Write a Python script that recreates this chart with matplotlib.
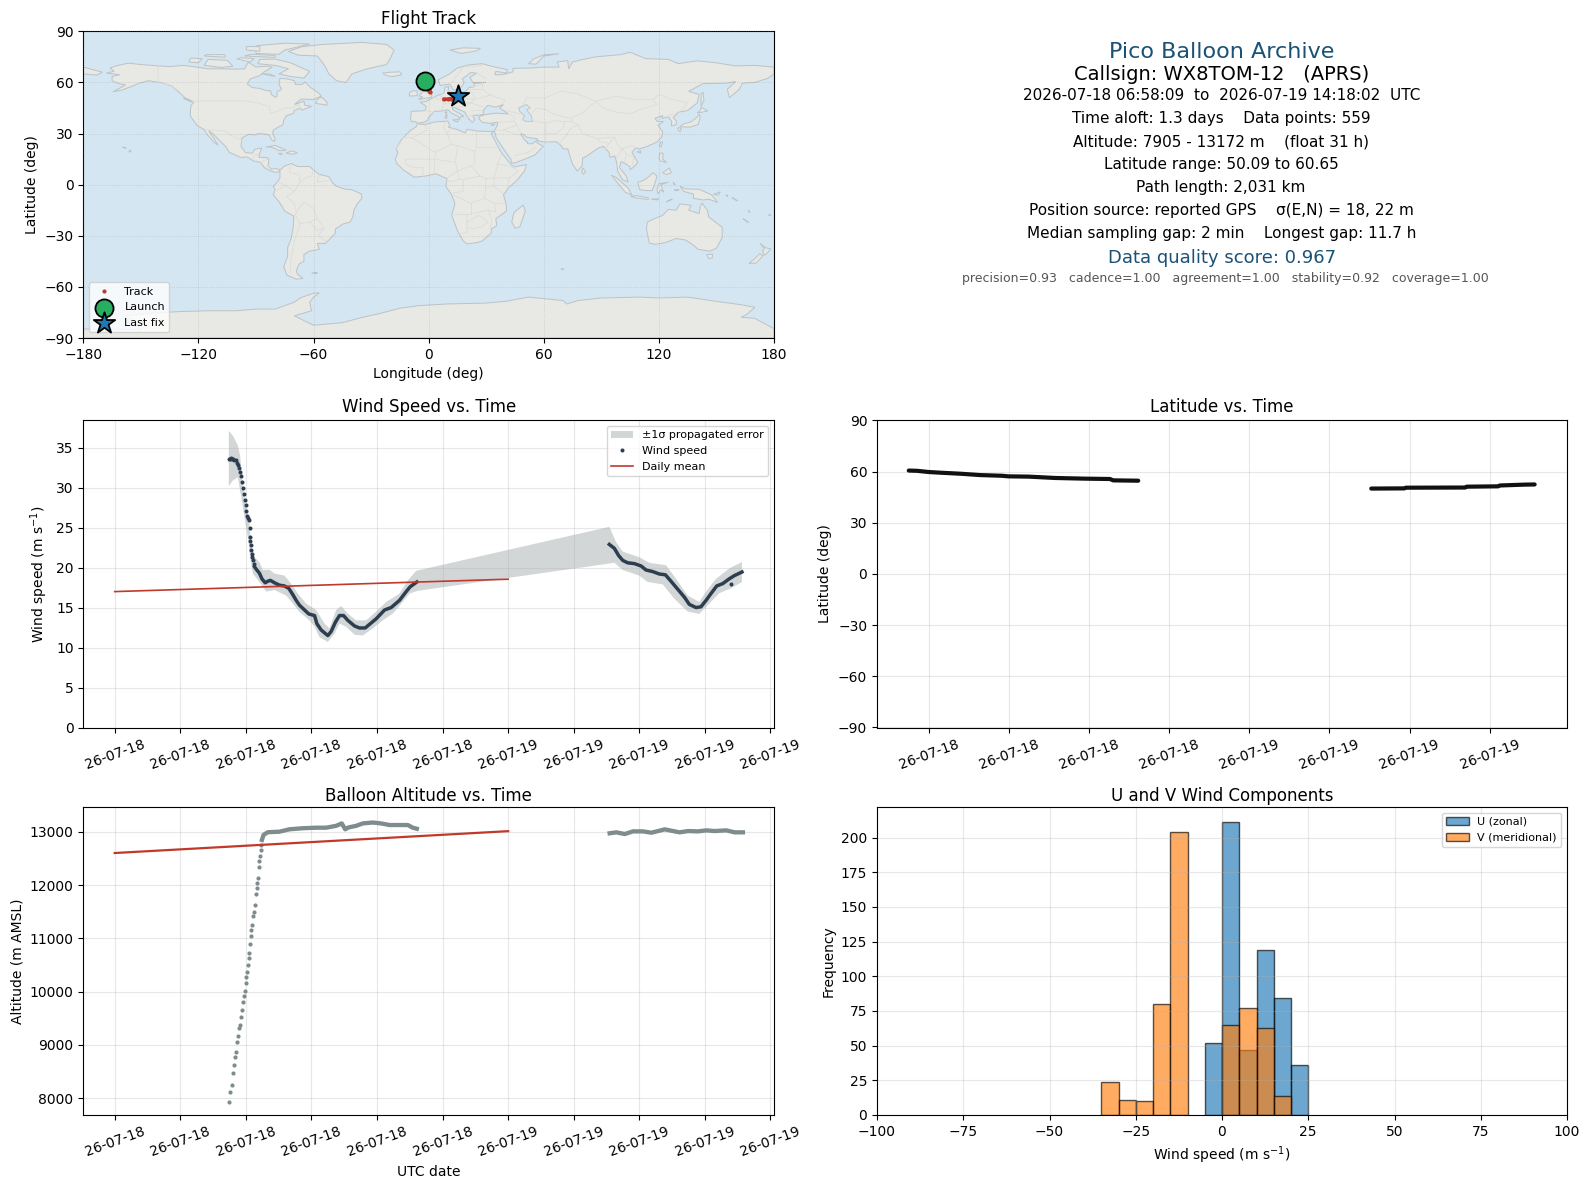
import datetime as dt
import numpy as np
import matplotlib
matplotlib.use("Agg")
import matplotlib.pyplot as plt
import matplotlib.dates as mdates
from matplotlib.patches import Polygon

# ---------- time series (hours since 2026-07-18 00:00 UTC) ----------
wind_climb_t = [6.96,7.02,7.08,7.14,7.21,7.29,7.37,7.44,7.51,7.58,7.65,7.70,7.76,7.82,7.88,7.93,7.98,8.03,8.08,8.13,8.18,8.24,8.26,8.28,8.30,8.33,8.35,8.39,8.43,8.48]
wind_climb_v = [33.63,33.6,33.65,33.6,33.6,33.5,33.4,33.1,32.8,32.4,32.0,31.4,30.7,30.0,29.25,28.5,27.8,27.1,26.5,26.2,26.0,24.9,23.8,23.3,22.8,22.2,21.75,21.3,20.9,20.5]
wind_seg1_t = [8.53,8.67,8.83,8.98,9.18,9.34,9.50,9.75,10.05,10.36,10.62,10.87,11.07,11.27,11.58,11.84,12.19,12.33,12.59,13.0,13.2,13.47,13.71,13.96,14.22,14.63,14.93,15.28,15.54,15.95,16.46,16.86,17.37,17.78,18.02,18.43]
wind_seg1_v = [20.1,19.7,19.3,18.6,18.1,18.3,18.4,18.1,17.8,17.7,17.4,16.6,15.9,15.3,14.7,14.2,14.0,13.0,12.2,11.5,12.0,13.2,14.0,14.0,13.4,12.7,12.45,12.45,12.9,13.6,14.7,15.0,15.9,17.0,17.6,18.2]
wind_seg2_t = [30.17,30.48,30.74,30.99,31.29,31.70,32.11,32.41,32.82,33.22,33.59,33.93,34.34,34.75,35.05,35.46,35.76,36.07,36.37,36.72,37.09,37.49,37.80,38.26]
wind_seg2_v = [22.9,22.4,21.5,20.9,20.6,20.5,20.2,19.7,19.5,19.2,19.1,18.3,17.3,16.3,15.4,15.0,15.1,15.9,16.75,17.7,18.0,18.6,19.0,19.45]
wind_outlier_t = [37.59]
wind_outlier_v = [18.0]

band_upper_t = [6.96,7.21,7.51,7.65,7.82,8.02,8.22,8.33,8.53,8.83,9.04,9.44,9.75,10.36,10.76,11.17,11.68,12.29,12.80,13.10,13.51,13.81,14.22,14.73,15.34,15.95,16.56,17.37,17.88,18.39,30.17,30.58,30.99,32.0,32.61,33.63,34.24,34.95,35.66,36.07,36.68,37.49,38.26]
band_upper_v = [37.1,36.5,35.3,34.0,30.1,27.6,25.5,22.6,21.3,20.7,19.7,19.75,19.25,19.0,18.0,16.75,15.5,14.7,13.0,12.4,14.7,15.2,14.25,13.4,13.4,14.5,15.7,16.75,18.4,19.6,25.1,23.2,22.0,21.3,20.6,20.3,18.6,16.5,15.7,17.0,18.6,19.9,20.7]
band_lower_t = [6.96,7.21,7.51,7.72,7.92,8.18,8.26,8.43,8.83,9.24,9.75,10.46,10.87,11.27,11.88,12.19,12.49,13.0,13.41,13.71,14.12,14.63,15.13,15.74,16.35,16.96,17.57,17.98,18.49,30.48,30.99,32.0,32.51,33.43,34.14,34.95,35.66,36.27,36.88,37.59,38.26]
band_lower_v = [30.2,30.9,31.3,28.8,26.3,23.0,21.3,19.25,18.2,17.0,17.2,16.5,15.5,14.45,13.4,12.6,11.3,10.7,11.75,13.0,12.6,11.6,11.5,12.4,13.4,14.25,15.7,16.75,17.1,20.6,19.7,19.0,18.2,17.9,16.1,14.5,14.2,15.5,16.8,17.4,18.2]

daily_t = [0.0, 24.0]
daily_wind = [17.0, 18.55]
daily_alt = [12600, 13010]

alt_climb_t = [6.96,7.04,7.13,7.21,7.29,7.35,7.41,7.47,7.55,7.61,7.65,7.72,7.76,7.82,7.88,7.94,7.98,8.02,8.06,8.12,8.18,8.22,8.26,8.33,8.33,8.39,8.43,8.49,8.55,8.59,8.65,8.69,8.75,8.79,8.83,8.87,8.91,8.93]
alt_climb_m = [7938,8125,8250,8470,8625,8780,8875,9060,9175,9310,9375,9530,9655,9800,9920,10010,10155,10270,10375,10500,10625,10720,10890,11050,11155,11250,11420,11500,11625,11825,11940,12030,12125,12330,12455,12550,12655,12750]
alt_seg1_t = [8.98,9.08,9.34,10.05,10.66,11.48,12.29,12.90,13.51,13.85,14.06,14.26,14.73,15.13,15.74,16.25,16.76,17.88,18.18,18.43]
alt_seg1_m = [12845,12940,12990,13000,13045,13065,13075,13075,13110,13155,13045,13080,13110,13155,13172,13155,13125,13125,13075,13055]
alt_seg2_t = [30.19,30.6,31.11,31.61,32.22,32.73,33.24,33.54,33.95,34.46,34.97,35.58,36.09,36.59,37.30,37.81,38.32]
alt_seg2_m = [12970,12988,12956,13006,13006,12981,13019,13044,13019,12988,13012,13006,13025,13012,13025,12988,12988]

lat_seg1_t = [6.99,7.40,7.98,8.56,9.56,10.56,11.64,11.97,12.97,14.30,15.79,17.04,17.20,18.45]
lat_seg1_d = [60.65,60.5,59.8,59.4,58.8,58.0,57.6,57.25,57.1,56.3,55.9,55.7,54.9,54.7]
lat_seg2_t = [30.09,31.74,31.82,34.78,34.86,36.43,36.51,37.75,38.25]
lat_seg2_d = [50.09,50.2,50.6,50.7,51.2,51.4,51.9,52.4,52.5]

track1_lon = [-2.0,-1.6,-1.2,-0.8,-0.4,0.0,0.4,0.8]
track1_lat = [60.65,60.0,59.0,58.0,57.0,56.0,55.2,54.5]
track2_lon = [8.0,10.0,11.5,13.0,14.5,15.1]
track2_lat = [50.09,50.2,50.4,50.9,51.8,52.4]
launch_lon, launch_lat = -2.0, 60.65
last_lon, last_lat = 15.1, 52.3

# ---------- histogram ----------
bin_edges_u = [-5,0,5,10,15,20]
counts_u = [52,211,47,119,84,36]
bin_edges_v = [-35,-30,-25,-20,-15,0,5,10,15]
counts_v = [24,11,10,80,204,65,77,63,14]
bin_width = 5

# ---------- text ----------
info_lines = [
    ("Pico Balloon Archive", 52, 16, "#1a5276", 1222),
    ("Callsign: WX8TOM-12   (APRS)", 75, 14, "black", 1222),
    ("2026-07-18 06:58:09  to  2026-07-19 14:18:02  UTC", 96, 11, "black", 1222),
    ("Time aloft: 1.3 days    Data points: 559", 119, 11, "black", 1221),
    ("Altitude: 7905 - 13172 m    (float 31 h)", 142, 11, "black", 1221),
    ("Latitude range: 50.09 to 60.65", 164.5, 11, "black", 1221),
    ("Path length: 2,031 km", 187.5, 11, "black", 1221),
    ("Position source: reported GPS    \u03c3(E,N) = 18, 22 m", 210.5, 11, "black", 1221),
    ("Median sampling gap: 2 min    Longest gap: 11.7 h", 233.5, 11, "black", 1222),
    ("Data quality score: 0.967", 258, 13, "#1a5276", 1222),
    ("precision=0.93   cadence=1.00   agreement=1.00   stability=0.92   coverage=1.00", 279, 9, "#555555", 1225),
]

# ---------- land (lon, lat) ----------
north_america = [(-168,65.5),(-164,66.5),(-166,68.5),(-162,70),(-156.5,71.3),(-150,70.5),(-141,69.7),(-135,69.3),(-128,70),(-124,69.5),(-115,68),(-108,68),(-102,67.8),(-96,68),(-94,71.8),(-90,69),(-85,69.5),(-81.5,69),(-86,66),(-88,64),(-93,62),(-94.5,59),(-92,57),(-88,56.5),(-85,55.3),(-82.3,55),(-82,53),(-80,51.3),(-79,52),(-79,54.5),(-76.7,56),(-78,59),(-77.5,62.4),(-73.5,62),(-70,61),(-69.5,58.8),(-66,58.8),(-64.5,60.3),(-61.5,57),(-57,53.5),(-56,52),(-60,50),(-66.5,50.2),(-70,47),(-65,49),(-64.5,46.5),(-61,46),(-66,43.7),(-67,45),(-70,43.5),(-70.5,41.8),(-74,40.5),(-75.5,38),(-76,35),(-78,34),(-81,32),(-81.3,30),(-80,26.8),(-80.5,25.2),(-82,26.5),(-83,29),(-85,29.7),(-89,30),(-90,29.2),(-94,29.5),(-97.3,27.5),(-97.8,22.5),(-95.5,18.8),(-92,18.5),(-90.5,20.8),(-87,21.5),(-88,18.5),(-88.5,16),(-84,15.8),(-83.3,14.8),(-83.7,11),(-82,9),(-79.5,9.5),(-77.3,8.7),(-78,7.5),(-80.5,7.3),(-83,8.3),(-85.7,10),(-87.5,13),(-91.5,14),(-94.5,16.2),(-98,16),(-104,19),(-105.5,22),(-109,26),(-112.5,30),(-114.7,31.7),(-112.5,28),(-109.8,23.2),(-112,25),(-115.5,29.5),(-117.2,32.5),(-120.5,34.5),(-122.5,37.5),(-124.3,40.5),(-124,46),(-122.5,48.5),(-127,51),(-130.5,54.5),(-134,58),(-140,60),(-146,61),(-151,59.5),(-154,58),(-160,55.5),(-164.5,54.5),(-158,58.5),(-162,59.5),(-165,61),(-165,63.5),(-161,64.5)]
south_america = [(-77.5,8.5),(-75,11),(-71.5,12.4),(-70,11.5),(-68,10.6),(-62,10.7),(-60,8.5),(-57,6),(-52,4.7),(-50,1),(-48,-1),(-44,-2.5),(-40,-3),(-35,-5.5),(-34.8,-8),(-37,-11),(-39,-15),(-39.5,-19),(-41,-22),(-44.5,-23),(-48.5,-26),(-48.7,-28.5),(-52,-32.5),(-54,-34.5),(-58,-34.5),(-57,-38),(-62,-39),(-65,-41),(-65,-45),(-67.5,-46.5),(-69,-50.5),(-68.4,-52.5),(-65.5,-55),(-69,-55.5),(-74,-53),(-75.5,-48),(-73.5,-42),(-73.5,-37),(-71.5,-31),(-70.5,-24),(-70.3,-18.5),(-75,-15.5),(-78,-10),(-81,-6),(-80,-3),(-81,-1),(-78.5,2),(-77.5,4),(-77.5,7)]
africa = [(-5.8,35.8),(-2,35.2),(3,36.8),(10,37.3),(11,35),(10.3,33.7),(15,32.3),(19,30.3),(20,32.5),(25,31.5),(31,31.2),(34.2,31.3),(32.6,29.9),(34,27),(35.7,23.5),(37.2,20),(38.5,18),(42,13),(43.3,11.5),(44.5,10.4),(51,11.8),(50,8),(46,2.5),(41.5,-2),(39,-6),(40.5,-12),(40.5,-15.5),(35,-20),(35.5,-24),(32.8,-26),(32.5,-28.5),(28,-33),(25,-34),(20,-34.8),(18,-33),(15,-27),(12,-18),(13.7,-11),(12,-6),(9,-1),(9.5,3.5),(5,5.8),(4,6.4),(-2,5),(-7.5,4.4),(-13,8.5),(-16.7,12.5),(-17.4,14.7),(-16,19),(-17,21),(-14.5,26),(-9.8,31.5),(-6.5,34)]
eurasia = [(-9,37),(-9.5,38.8),(-9,43),(-1.8,43.4),(-1.2,46),(-4.5,48.4),(-1.5,48.7),(1.5,50.5),(4,52),(8,53.7),(8.5,57),(10.5,57.6),(10,54.5),(14,54),(19,54.5),(21,57),(24,57.5),(23.5,59.3),(30,60),(23,60),(21.5,63),(25,65.5),(22,65.8),(17.5,62),(18.5,59.8),(16.5,56.5),(13,55.4),(11,59),(6,58.2),(5,61.5),(11,65),(15,68.5),(21,70.3),(28,71),(33,69.4),(41,67.5),(40.5,65.5),(35,66.5),(34.5,64.5),(38,64.5),(40,65),(44,66.2),(44,68.3),(54,68.5),(60,69),(68,69),(67,72),(72.5,72.8),(73,68),(75,72),(80.5,73.5),(87,75),(100,76.3),(105,77.7),(113,74),(125,73.5),(130,71),(140,72.7),(150,71.5),(160,69.7),(170,70),(180,69),(180,65),(177,62.5),(170,60),(163.5,59.5),(162,56),(156.7,51),(155.7,56),(160,60.5),(155,59.5),(143,59.3),(135.5,54.7),(141,53),(140,48),(135,43.5),(130,42.5),(127.5,39.5),(129.3,37),(129,35.2),(126.5,34.5),(126.7,37),(125,39.7),(121.5,39),(122,40.5),(118,39),(119,37.2),(122.5,37),(119.5,35),(122,31),(121.5,28),(119,25),(114,22.5),(110,21),(108,21.6),(106,19),(109,13),(107,10.5),(105,8.7),(105,10.5),(102,12.7),(100.3,13.5),(99.5,10),(103,5),(104,1.5),(101,3),(98.5,8),(98,13),(97,16.8),(94.5,16),(94,19),(91,22.5),(89,21.8),(86.5,20),(82,16.5),(80.2,15.5),(80,11),(77.5,8),(75,12),(73,19),(72.5,21),(70,21),(69,23),(66.5,25.2),(61,25),(57,25.6),(56.5,27),(51.5,27.7),(48.5,30),(48,29.5),(50.2,26),(51.5,25),(51.5,24),(54,24),(56.3,26),(56.5,24.5),(59.8,22.5),(55.5,17.5),(52,15.8),(45,12.8),(43.3,12.7),(42.8,15),(39,21),(35,28),(34.9,29.5),(34.2,31.3),(35.8,35),(36,36.7),(32,36),(28,36.6),(26.3,38.5),(26.5,40),(29,41),(35,42),(41.5,41.5),(37,45),(39,47),(35,45.5),(33,46),(30.7,46.5),(28.5,43.5),(28.5,41.3),(26,40.7),(23,40.5),(24,38),(22.7,36.5),(21,38.5),(19.5,41),(19,42.5),(14,45),(12.3,45.3),(12.5,44),(16,41.8),(18.3,40),(16.5,39.8),(16,38),(15.5,40),(12,42),(10,44),(6.5,43.2),(3,43),(0,39.5),(-0.5,38),(-2,36.7),(-5.5,36),(-7,37)]
australia = [(114,-22),(113.5,-26),(115,-34.3),(118,-35),(123.5,-34),(129,-31.6),(134,-32.5),(138,-35.5),(140.5,-38),(146.5,-39),(150,-37.3),(153,-31),(153,-25),(149.5,-22),(146,-19),(145.3,-15),(142.5,-10.8),(141.5,-13),(141,-17),(135.5,-15),(136.8,-12.2),(131,-11.3),(129,-15),(125,-14.5),(122,-18),(116,-20.8)]
antarctica = [(-180,-90),(-180,-84.7),(-150,-85),(-155,-79),(-158,-77),(-146,-75.5),(-130,-74.5),(-115,-74),(-100,-74),(-90,-73),(-80,-73),(-70,-69),(-67,-66.5),(-60,-63.7),(-57,-63.5),(-60,-66),(-62,-69),(-61,-74),(-70,-77),(-60,-82.5),(-45,-81),(-35,-78),(-25,-75.5),(-15,-72.5),(-5,-71),(10,-70),(30,-69.5),(40,-68.5),(52,-66),(70,-68),(72,-70),(78,-68),(90,-66.5),(110,-66),(120,-66.5),(135,-66),(150,-68.5),(163,-70.5),(170,-72),(166,-76),(163,-77.8),(170,-78.5),(180,-84.5),(180,-90)]
islands = [
 [(-73,78.2),(-66,81),(-55,82.3),(-35,83.5),(-22,82.3),(-18,79),(-20,74),(-22,70.5),(-32,68),(-40,65),(-43,60),(-48,61),(-52,65),(-54,69.5),(-58,75.5),(-68,76)],
 [(-80,73.7),(-72,71.5),(-67,69),(-62,66.5),(-65,62.5),(-72,63.5),(-78,65),(-73,68),(-80,70),(-89,71),(-88,73.5)],
 [(-117,70),(-108,68.8),(-102,69.5),(-105,73),(-115,73.5)],[(-125,72),(-120,71.5),(-118,74),(-124,74.3)],
 [(-90,77),(-78,76.5),(-75,79),(-62,82.5),(-75,83),(-90,81.5)],[(-96,75.5),(-80,74.7),(-80,75.8),(-92,76.5)],
 [(-95,79),(-88,78.3),(-88,81),(-95,81)],[(-117,75.5),(-106,74.8),(-106,76.3),(-116,76.3)],[(-100,73.8),(-93,72),(-91,74),(-98,74.5)],
 [(-59,47.7),(-53,46.7),(-53,48.5),(-56,51.5),(-58,50)],[(-87,65),(-80,63.5),(-83,65)],[(-128,50.7),(-123.5,48.4),(-125,50)],
 [(-84.8,22),(-80,23),(-74.2,20.2),(-77.5,19.9),(-82,22)],[(-74.4,18.5),(-71,19.9),(-68.4,18.6),(-71.5,17.8)],[(-78.3,18.3),(-76.3,18.1),(-77,17.8)],
 [(-156,19),(-155,19.7),(-156,20.2)],[(-159.7,22),(-157.7,21.4),(-158.5,21.8)],
 [(-61,-51.8),(-58,-51.5),(-58.5,-52.3)],[(-180,69),(-175,67.5),(-170,66),(-173,64.3),(-180,65)],
 [(49.3,-12),(50.4,-15.5),(47.5,-24.8),(45,-25.5),(43.3,-22),(44.5,-16.3)],
 [(-5.5,50),(1.5,51.2),(1.7,52.7),(0,53.5),(-2,56),(-2,57.6),(-3.5,58.6),(-5.5,58.5),(-5.5,56),(-3,54.7),(-5,52),(-3,51.4)],
 [(-10,52),(-6,52.2),(-6,55),(-8.5,55),(-10,54)],[(-24,65.5),(-22,64),(-19,63.4),(-14,64.5),(-15,66.2),(-20,66)],
 [(11,79),(17,77),(25,78.5),(27,80),(18,80.3)],[(52,71),(56,70.7),(60,75.5),(68,76.8),(60,76.2),(55,74)],
 [(142,46),(143.5,49.5),(143,54.3),(142,53),(142,48)],[(131,34),(136,33.7),(140.5,35.3),(141.5,39.5),(141,41.3),(139.8,39.5),(137,37),(132.5,35.5)],
 [(140,42),(145.5,43.2),(142,45.5),(141.5,43.5)],[(130,33.5),(131.8,33),(131,31),(130,32)],[(120.2,23),(121,22),(122,25),(121,25)],
 [(108.7,19.3),(110.5,20),(110.5,18.5)],[(79.8,8),(80.5,9.7),(81.8,7.5),(80.5,6)],[(95.3,5.6),(98,4),(104,-2),(106,-6),(102.5,-4.5),(98.5,1)],
 [(105.2,-6.8),(108.5,-6.5),(114.5,-7.7),(114.5,-8.7),(108,-7.8)],[(109,1.5),(111,2),(113.5,3.5),(117,7),(119,5),(118,1),(116.5,-3.5),(114,-3.5),(110,-3)],
 [(119.5,-5.5),(119,-3),(120,0.5),(125,1.5),(121,0),(122.5,-4.5),(121,-3)],[(120.5,18.5),(122.2,18.5),(122,15),(124,13),(120.7,14),(120,16)],
 [(122,7),(125.5,9.8),(126.5,7),(124,6)],[(131,-1),(134,-2.5),(141,-2.7),(147.5,-6),(150.7,-10.5),(146,-8.5),(143,-9),(138,-8),(138,-5.5),(133,-4)],
 [(148.5,-5.7),(152,-4.2),(151,-6)],[(116,-8.5),(120,-8.3),(119,-9)],[(124,-10),(127,-8.5),(125,-9.5)],[(128,-3),(130.5,-3),(129,-3.5)],[(127.5,1.5),(128.5,0),(127.8,0)],
 [(155,-6),(156,-7),(155.5,-6.3)],[(158,-7.5),(161,-9.5),(160,-9)],[(166.5,-15),(167.5,-16.5),(167,-15.5)],[(164,-20),(167,-22.3),(165.5,-21.5)],[(177.2,-17.5),(178.5,-18),(177.5,-18.2)],
 [(145,-41),(148,-40.8),(147.8,-43),(146,-43.5)],[(172.7,-34.5),(175.5,-37),(178.3,-37.7),(177,-39.5),(175,-41.5),(174,-39),(175,-37.5)],
 [(172.5,-40.6),(174.3,-41.7),(170.7,-46),(167,-46.3),(170.5,-42.8)],[(69,-49.5),(70.5,-49.3),(69.8,-49.9)],
 [(9,41),(9.7,41),(9.5,39),(8.5,39)],[(12.5,38),(15.5,38.2),(15,36.7)],[(8.6,42.5),(9.5,42.9),(9.2,41.5)],[(32.5,35),(34.5,35.6),(33.5,34.7)],
]
inland_seas = [[(47,45),(51,47),(53,45),(51,44),(53.5,40.5),(54,37),(50,37.3),(49,38.5),(50,40.5),(47.5,43)]]
borders = [
 [(-123,49),(-95,49),(-89,48),(-83,46),(-82.5,42),(-79,43),(-75,45),(-71,45),(-67.5,47),(-67,45)],[(-141,69.7),(-141,60),(-135,58.5),(-130,55)],
 [(-117,32.5),(-108,31.5),(-106.5,31.8),(-103,29),(-97.3,26)],[(-92,14.5),(-91,17.5),(-89,17.8),(-88.5,16)],[(-87.5,13),(-84,15)],[(-85.7,11),(-83.7,11)],
 [(-72,12),(-72.5,7),(-67.5,6),(-67,1.5),(-70,-4),(-74,-7),(-70,-11),(-69,-16),(-69.5,-18)],[(-60,8.5),(-61,5),(-64,4),(-67,1.5)],[(-57,6),(-58,1.5),(-52,2.5)],
 [(-78.5,1.5),(-75,0),(-70,-4)],[(-80,-3.5),(-75.5,-1.5)],[(-69.5,-18),(-67,-23),(-70,-33),(-72,-45),(-72,-52)],[(-69,-16),(-65,-10),(-60,-14),(-58,-20),(-62,-22),(-67,-23)],
 [(-58,-20),(-54.5,-25.5),(-58,-27),(-62,-22)],[(-54.5,-25.5),(-57.5,-30),(-53,-33.5)],
 [(-8.7,27.5),(-1,32),(-1.8,35)],[(-8.7,27.5),(-13,27.7),(-17,21)],[(-8.7,27.5),(-5,25),(3,19),(12,23.5),(9.5,30),(8,33),(8.5,37)],[(9.5,30),(12,33)],[(12,23.5),(15,23),(24,19.5),(25,22),(25,31.5)],
 [(25,22),(36.5,22)],[(24,19.5),(24,12),(22,11),(27,5),(30,3.5),(34,4),(36,12),(38,18)],[(-12,15),(-5,15),(3,15),(4,19)],[(3,15),(3,11),(3,6.4)],[(-12,15),(-12,12),(-8,10),(-3,10),(-3,5)],[(3,15),(14,13),(15,23)],
 [(14,13),(15,8),(9.5,4)],[(15,8),(22,11)],[(15,8),(16,3),(13,2),(9.5,2)],[(16,3),(18,3),(18,-4),(12,-5)],[(18,3),(27,5)],[(30,3.5),(29.5,-3),(29,-8),(22,-11),(13,-6)],[(22,-11),(22,-17),(12,-17)],
 [(36,12),(42,11),(47,8),(42,4),(34,4)],[(42,4),(41,-2)],[(34,-1),(39,-5)],[(29.5,-2),(34,-1),(34,4)],[(29,-8),(34,-11),(35,-16),(31,-15),(22,-17)],[(40.5,-11),(34,-11)],[(31,-15),(33,-21),(32,-26)],[(20,-18),(20,-28),(16.5,-29)],[(20,-22),(26,-18),(31,-22),(27,-25),(23,-26),(20,-25)],
 [(28,60),(28,56),(32,52.5),(40,49.5),(38,47)],[(40,43.5),(48,41.5)],[(47,45),(49,46),(51,51),(61,51),(69,55),(77,53.5),(87,49),(98,52),(107,50),(117,50),(120,53),(127,50),(135,48),(131,43),(130,42.5)],
 [(87,49),(91,45),(97,42.7),(105,41.6),(112,44.8),(119,47),(117,50)],[(87,49),(80,42),(74,39),(75,37),(78,35),(80,30),(88,27),(97,28),(98,24),(101,21),(106,23),(108,21.6)],
 [(68,24),(71,28),(74,33),(78,35)],[(88,27),(89,25),(92,25),(94,24),(92,21)],[(97,28),(94,24)],[(101,21),(103,18),(107,16),(106,11)],[(98,16),(101,21)],[(103,18),(102,13)],
 [(61,25),(61,30),(61,36),(54,37.5)],[(61,30),(66,30),(70,33),(71,37),(75,37)],[(61,36),(66,37.5),(71,37)],[(54,42),(56,45),(61,44),(66,41),(74,39)],[(48,30),(46,35),(44.5,37.2),(42,37),(36,36.5)],[(44.5,37.2),(44.5,40),(41.5,41.5)],[(46,35),(39,32),(35,32)],[(39,32),(47,29)],[(45,17),(52,19),(56,22)],[(127,41.5),(124.5,40)],
 [(-1.8,43.4),(3,42.5)],[(2.5,51),(8,49),(7,44)],[(7,53.5),(6,50.5)],[(14.5,54),(15,51),(24,50),(23,54),(21,55)],[(8,47.5),(13,47.5),(17,48),(22,48),(24,50)],[(14,45.5),(19,46),(22,48)],[(22,48),(28.5,45.5)],[(22,44),(28,44)],[(28,56),(21,56)],[(28,59),(23,57.5)],[(12,60),(18,69)],[(20,69),(28,70)],[(24,66),(30,62)],[(24,50),(32,52.5)],
 [(20,40),(26,41.5)],
]

# ---------- layout ----------
W, H = 1589, 1189
def axes_px(fig, x0, x1, y0, y1):
    return fig.add_axes([x0 / W, 1 - y1 / H, (x1 - x0) / W, (y1 - y0) / H])

base = mdates.date2num(dt.datetime(2026, 7, 18))
def tx(hours):
    return base + np.asarray(hours, dtype=float) / 24.0

RED = "#c0392b"
NAVY = "#2c3e50"
GREY = "#7f8c8d"

fig = plt.figure(figsize=(W / 100, H / 100), dpi=100)

def style_time(ax):
    ax.xaxis.set_major_locator(mdates.HourLocator(byhour=range(0, 24, 4)))
    ax.xaxis.set_major_formatter(mdates.DateFormatter("%y-%m-%d"))
    ax.tick_params(axis="x", labelrotation=20)
    ax.grid(True, alpha=0.3)

# map
ax = axes_px(fig, 83.3, 774, 31.3, 338)
ax.set_facecolor("#d4e6f1")
for poly in [north_america, south_america, africa, eurasia, australia, antarctica] + islands:
    ax.add_patch(Polygon(poly, closed=True, facecolor="#e8e8e4", edgecolor="#bcc3c6", linewidth=0.7, zorder=1))
for sea in inland_seas:
    ax.add_patch(Polygon(sea, closed=True, facecolor="#d4e6f1", edgecolor="#bcc3c6", linewidth=0.6, zorder=1.2))
for b in borders:
    xs, ys = zip(*b)
    ax.plot(xs, ys, color="#dcdcd8", lw=0.6, zorder=1.1)
ax.grid(True, color="gray", alpha=0.3, ls=":", lw=0.6, zorder=1.5)
ax.set_axisbelow(False)
ax.plot(track1_lon, track1_lat, ".", color=RED, ms=4, zorder=3, label="Track")
ax.plot(track2_lon, track2_lat, ".", color=RED, ms=4, zorder=3)
ax.plot(track1_lon, track1_lat, "-", color=RED, lw=2.5, zorder=3)
ax.plot(track2_lon, track2_lat, "-", color=RED, lw=2.5, zorder=3)
ax.scatter([launch_lon], [launch_lat], s=170, c="#27ae60", edgecolors="black", linewidths=1.3, zorder=5, label="Launch")
ax.scatter([last_lon], [last_lat], s=260, c="#1f77b4", marker="*", edgecolors="black", linewidths=1.3, zorder=5, label="Last fix")
ax.set_xlim(-180, 180)
ax.set_ylim(-90, 90)
ax.set_xticks(range(-180, 181, 60))
ax.set_yticks(range(-90, 91, 30))
ax.set_xlabel("Longitude (deg)")
ax.set_ylabel("Latitude (deg)")
ax.set_title("Flight Track", pad=5.3)
ax.legend(loc="lower left", fontsize=8)

# info panel
for text, y_px, size, color, x_px in info_lines:
    fig.text(x_px / W, 1 - y_px / H, text, ha="center", va="center", fontsize=size, color=color)

# wind speed
ax = axes_px(fig, 83.3, 774, 420.5, 727.5)
ax.fill(tx(band_upper_t + band_lower_t[::-1]), band_upper_v + band_lower_v[::-1], color=GREY, alpha=0.35, lw=0, label="\u00b11\u03c3 propagated error")
ax.plot(tx(wind_climb_t), wind_climb_v, "o", color=NAVY, ms=2.9, mew=0, zorder=3, label="Wind speed")
ax.plot(tx(wind_seg1_t), wind_seg1_v, "-", color=NAVY, lw=2.5, zorder=3)
ax.plot(tx(wind_seg2_t), wind_seg2_v, "-", color=NAVY, lw=2.5, zorder=3)
ax.plot(tx(wind_outlier_t), wind_outlier_v, "o", color=NAVY, ms=2.9, mew=0, zorder=3)
ax.plot(tx(daily_t), daily_wind, "-", color=RED, lw=1.2, zorder=4, label="Daily mean")
style_time(ax)
ax.set_xlim(tx(-1.915), tx(40.215))
ax.set_ylim(0, 38.4)
ax.set_yticks(range(0, 36, 5))
ax.set_ylabel("Wind speed (m s$^{-1}$)")
ax.set_title("Wind Speed vs. Time", pad=6.1)
ax.legend(loc="upper right", fontsize=8)

# latitude
ax = axes_px(fig, 877, 1567, 420.5, 727.5)
ax.plot(tx(lat_seg1_t), lat_seg1_d, "-", color="#111111", lw=3, solid_capstyle="round")
ax.plot(tx(lat_seg2_t), lat_seg2_d, "-", color="#111111", lw=3, solid_capstyle="round")
style_time(ax)
ax.set_xlim(tx(6.97 - 1.566), tx(38.3 + 1.566))
ax.set_ylim(-90, 90)
ax.set_yticks(range(-90, 91, 30))
ax.set_ylabel("Latitude (deg)")
ax.set_title("Latitude vs. Time", pad=6.1)

# altitude
ax = axes_px(fig, 83.3, 774, 807, 1115)
ax.plot(tx(alt_climb_t), alt_climb_m, "o", color=GREY, ms=3.0, mew=0, zorder=3)
ax.plot(tx(alt_seg1_t), alt_seg1_m, "-", color=GREY, lw=3.1, zorder=3)
ax.plot(tx(alt_seg2_t), alt_seg2_m, "-", color=GREY, lw=3.1, zorder=3)
ax.plot(tx(daily_t), daily_alt, "-", color=RED, lw=1.6, zorder=4)
style_time(ax)
ax.set_xlim(tx(-1.915), tx(40.215))
ax.set_ylim(7687, 13463)
ax.set_xlabel("UTC date")
ax.set_ylabel("Altitude (m AMSL)")
ax.set_title("Balloon Altitude vs. Time", pad=4.6)

# histogram
ax = axes_px(fig, 877, 1567, 807, 1115)
ax.bar(bin_edges_u, counts_u, width=bin_width, align="edge", color="C0", alpha=0.65, edgecolor="black", linewidth=1, label="U (zonal)")
ax.bar(bin_edges_v, counts_v, width=bin_width, align="edge", color="C1", alpha=0.65, edgecolor="black", linewidth=1, label="V (meridional)")
ax.set_xlim(-100, 100)
ax.set_ylim(0, 222)
ax.set_yticks(range(0, 201, 25))
ax.grid(True, alpha=0.3)
ax.set_xlabel("Wind speed (m s$^{-1}$)")
ax.set_ylabel("Frequency")
ax.set_title("U and V Wind Components", pad=4.6)
ax.legend(loc="upper right", fontsize=8)

fig.savefig("out.png", dpi=100)
